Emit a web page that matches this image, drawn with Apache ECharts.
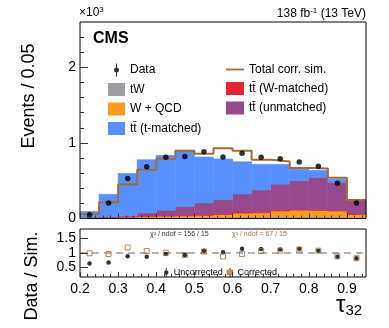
<!DOCTYPE html>
<html>
<head>
<meta charset="utf-8">
<style>
html, body { margin: 0; padding: 0; background: #fff; }
#main { width: 389px; height: 328px; }
</style>
<script src="https://cdn.jsdelivr.net/npm/echarts@6/dist/echarts.min.js"></script>
</head>
<body>
<div id="main"></div>
<script>
// bin edges of tau32 (15 bins of 0.05)
var binEdges = [0.20, 0.25, 0.30, 0.35, 0.40, 0.45, 0.50, 0.55, 0.60, 0.65, 0.70, 0.75, 0.80, 0.85, 0.90, 0.95];

// stacked simulation (events per bin), bottom to top
var tW      = [4, 6, 8, 10, 12, 14, 15, 16, 17, 18, 20, 20, 20, 18, 12];
var wQCD    = [4, 6, 10, 14, 18, 21, 25, 37, 54, 58, 80, 90, 87, 80, 41];
var ttWm    = [2, 4, 6, 8, 10, 12, 13, 14, 15, 15, 14, 12, 10, 8, 5];
var ttUnm   = [2, 4, 11, 43, 70, 113, 152, 183, 238, 287, 341, 378, 428, 374, 186];
var ttTm    = [81, 300, 561, 703, 726, 742, 608, 537, 427, 338, 261, 153, 91, 40, 2];

var totalCorr = [58, 216, 450, 644, 790, 896, 858, 929, 898, 776, 753, 669, 660, 538, 246];
var dataVals  = [49, 204, 529, 684, 809, 822, 884, 813, 862, 809, 791, 747, 693, 467, 204];

// ratio panel
var ratioUnc = [0.64, 0.67, 0.885, 0.87, 0.965, 0.93, 1.08, 1.03, 1.15, 1.14, 1.12, 1.15, 1.08, 0.87, 0.82];
var ratioCor = [0.99, 0.965, 1.19, 1.07, 1.01, 0.93, 1.05, 0.88, 0.965, 1.07, 1.08, 1.12, 1.08, 0.885, 0.82];

// tick positions
var yMajor = [0, 1000, 2000];
var yMinor = [200, 400, 600, 800, 1200, 1400, 1600, 1800, 2200, 2400];
var xMajor = [0.2, 0.3, 0.4, 0.5, 0.6, 0.7, 0.8, 0.9];
var xMinor = [0.22, 0.24, 0.26, 0.28, 0.32, 0.34, 0.36, 0.38, 0.42, 0.44, 0.46, 0.48, 0.52, 0.54, 0.56, 0.58,
              0.62, 0.64, 0.66, 0.68, 0.72, 0.74, 0.76, 0.78, 0.82, 0.84, 0.86, 0.88, 0.92, 0.94];
var rMajor = [0.5, 1, 1.5];

var FONT = 'Liberation Sans';
var BROWN = '#a66a35';
var TT = 'tt\u0304';

var layers = [
    {name: 'tW', vals: tW, color: '#9c9ca1'},
    {name: 'W + QCD', vals: wQCD, color: '#f89c20'},
    {name: TT + ' (W-matched)', vals: ttWm, color: '#e42536'},
    {name: TT + ' (unmatched)', vals: ttUnm, color: '#964a8b'},
    {name: TT + ' (t-matched)', vals: ttTm, color: '#5790fc'}
];

function renderBin(params, api) {
    var p0 = api.coord([api.value(0), api.value(3)]);
    var p1 = api.coord([api.value(1), api.value(2)]);
    var st = api.style();
    st.stroke = st.fill;
    st.lineWidth = 0.6;
    return {
        type: 'rect',
        shape: {x: p0[0], y: p0[1], width: p1[0] - p0[0], height: p1[1] - p0[1]},
        style: st
    };
}

var series = [];
var cum = binEdges.slice(0, 15).map(function () { return 0; });
layers.forEach(function (l) {
    var rows = [];
    for (var i = 0; i < 15; i++) {
        rows.push([binEdges[i], binEdges[i + 1], cum[i], cum[i] + l.vals[i]]);
        cum[i] += l.vals[i];
    }
    series.push({
        name: l.name, type: 'custom', xAxisIndex: 0, yAxisIndex: 0,
        renderItem: renderBin, encode: {x: [0, 1], y: [2, 3]},
        itemStyle: {color: l.color}, data: rows, silent: true, z: 2
    });
});

var stepData = [];
for (var i = 0; i < 15; i++) stepData.push([binEdges[i], totalCorr[i]]);
stepData.push([binEdges[15], totalCorr[14]]);

var centers = [];
for (var i = 0; i < 15; i++) centers.push((binEdges[i] + binEdges[i + 1]) / 2);

series.push({
    name: 'Total corr. sim.', type: 'line', step: 'end', xAxisIndex: 0, yAxisIndex: 0,
    data: stepData, symbol: 'none', lineStyle: {color: BROWN, width: 2}, itemStyle: {color: BROWN}, z: 5
});
series.push({
    name: 'Data', type: 'scatter', xAxisIndex: 0, yAxisIndex: 0,
    data: centers.map(function (c, i) { return [c, dataVals[i]]; }),
    symbol: 'circle', symbolSize: 5.5, itemStyle: {color: '#000'}, z: 6
});

// ratio panel
series.push({
    name: 'ref', type: 'line', xAxisIndex: 2, yAxisIndex: 2,
    data: [[0.2, 1], [0.95, 1]], symbol: 'none',
    lineStyle: {color: '#9a9a9a', width: 1.5, type: [7, 5]}, z: 2
});
series.push({
    name: 'Uncorrected', type: 'scatter', xAxisIndex: 2, yAxisIndex: 2,
    data: centers.map(function (c, i) { return [c, ratioUnc[i]]; }),
    symbol: 'circle', symbolSize: 4.5, itemStyle: {color: '#000'}, z: 5
});
series.push({
    name: 'Corrected', type: 'scatter', xAxisIndex: 2, yAxisIndex: 2,
    data: centers.map(function (c, i) { return [c, ratioCor[i]]; }),
    symbol: 'rect', symbolSize: 5, itemStyle: {color: 'rgba(255,255,255,0)', borderColor: BROWN, borderWidth: 1}, z: 6
});

function tickAxis(grid, type, extra) {
    var a = {
        gridIndex: grid, type: 'value',
        axisLine: {show: false}, splitLine: {show: false},
        axisLabel: {show: false}, z: 10
    };
    for (var k in extra) a[k] = extra[k];
    return a;
}

var dataIcon = 'path://M2,0h1v13h-1z M0,6.5a2.5,2.5 0 1,1 5,0a2.5,2.5 0 1,1 -5,0z';
var lineIcon = 'path://M0,0h20v2h-20z';
var uncIcon = 'path://M1.6,0h0.8v8h-0.8z M0,4a2,2 0 1,1 4,0a2,2 0 1,1 -4,0z';
var corIcon = 'path://M2,0L2,8 M0,2.5h4v3h-4z';

var chart = echarts.init(document.getElementById('main'), null, {renderer: 'canvas'});
chart.setOption({
    animation: false,
    backgroundColor: '#fff',
    textStyle: {fontFamily: FONT},
    grid: [
        {left: 80, right: 23, top: 22, height: 196.5, show: true, borderColor: '#000', borderWidth: 1, backgroundColor: 'transparent', z: 8},
        {left: 80, right: 23, top: 229, height: 48, show: true, borderColor: '#000', borderWidth: 1, backgroundColor: 'transparent', z: 8}
    ],
    xAxis: [
        tickAxis(0, 'value', {min: 0.2, max: 0.95, position: 'bottom',
            axisTick: {inside: true, length: 5, customValues: xMajor, lineStyle: {color: '#333'}}}),
        tickAxis(0, 'value', {min: 0.2, max: 0.95, position: 'bottom',
            axisTick: {inside: true, length: 3, customValues: xMinor, lineStyle: {color: '#333'}}}),
        tickAxis(1, 'value', {min: 0.2, max: 0.95, position: 'bottom',
            axisTick: {inside: true, length: 5, customValues: xMajor, lineStyle: {color: '#333'}},
            axisLabel: {show: true, customValues: xMajor, margin: 5, fontSize: 14, color: '#000', fontFamily: FONT,
                formatter: function (v) { return v.toFixed(1); }}}),
        tickAxis(1, 'value', {min: 0.2, max: 0.95, position: 'bottom',
            axisTick: {inside: true, length: 3, customValues: xMinor, lineStyle: {color: '#333'}}})
    ],
    yAxis: [
        tickAxis(0, 'value', {min: 0, max: 2600, position: 'left',
            axisTick: {inside: true, length: 8, customValues: yMajor, lineStyle: {color: '#333'}},
            axisLabel: {show: true, customValues: yMajor, margin: 4, fontSize: 14, color: '#000', fontFamily: FONT,
                formatter: function (v) { return String(v / 1000); }}}),
        tickAxis(0, 'value', {min: 0, max: 2600, position: 'left',
            axisTick: {inside: true, length: 4, customValues: yMinor, lineStyle: {color: '#333'}}}),
        tickAxis(1, 'value', {min: 0.17, max: 1.83, position: 'left',
            axisTick: {inside: true, length: 8, customValues: rMajor, lineStyle: {color: '#333'}},
            axisLabel: {show: true, customValues: rMajor, margin: 4, fontSize: 14, color: '#000', fontFamily: FONT,
                formatter: function (v) { return String(v); }}})
    ],
    legend: [
        {
            orient: 'vertical', left: 103, top: 58.5, itemWidth: 17, itemHeight: 13, itemGap: 6.5,
            selectedMode: false, textStyle: {fontSize: 12, color: '#000', fontFamily: FONT},
            data: [
                {name: 'Data', icon: dataIcon},
                {name: 'tW', icon: 'rect'},
                {name: 'W + QCD', icon: 'rect'},
                {name: TT + ' (t-matched)', icon: 'rect'}
            ]
        },
        {
            orient: 'vertical', left: 221, top: 58.5, itemWidth: 18, itemHeight: 13, itemGap: 6.5,
            selectedMode: false, textStyle: {fontSize: 12, color: '#000', fontFamily: FONT},
            data: [
                {name: 'Total corr. sim.', icon: lineIcon},
                {name: TT + ' (W-matched)', icon: 'rect'},
                {name: TT + ' (unmatched)', icon: 'rect'}
            ]
        },
        {
            orient: 'horizontal', left: 159, top: 262, itemWidth: 5, itemHeight: 9, itemGap: 4,
            selectedMode: false, textStyle: {fontSize: 9, color: '#000', fontFamily: FONT},
            data: [
                {name: 'Uncorrected', icon: uncIcon},
                {name: 'Corrected', icon: corIcon}
            ]
        }
    ],
    graphic: [
        {type: 'text', left: 79, top: 6, style: {text: '\u00d710{s|3}', fontSize: 12, fontFamily: FONT, fill: '#000',
            rich: {s: {fontSize: 8, verticalAlign: 'top', padding: [0, 0, 6, 0], fontFamily: FONT}}}},
        {type: 'text', right: 23, top: 7, style: {text: '138 fb{s|-1} (13 TeV)', fontSize: 12, fontFamily: FONT, fill: '#000',
            rich: {s: {fontSize: 8, padding: [0, 0, 6, 0], fontFamily: FONT}}}},
        {type: 'text', left: 93, top: 31, style: {text: 'CMS', fontSize: 16, fontWeight: 'bold', fontFamily: FONT, fill: '#000'}},
        {type: 'text', x: 29, y: 96, rotation: Math.PI / 2,
            style: {text: 'Events / 0.05', fontSize: 18, fontFamily: FONT, fill: '#000', align: 'center', verticalAlign: 'middle'}},
        {type: 'text', x: 32, y: 276, rotation: Math.PI / 2,
            style: {text: 'Data / Sim.', fontSize: 18, fontFamily: FONT, fill: '#000', align: 'center', verticalAlign: 'middle'}},
        {type: 'text', left: 150, top: 230.5, style: {text: '\u03c7\u00b2 / ndof = 156 / 15', fontSize: 7, fontFamily: FONT, fill: '#333'}},
        {type: 'text', left: 232, top: 230.5, style: {text: '\u03c7\u00b2 / ndof = 67 / 15', fontSize: 7, fontFamily: FONT, fill: BROWN}},
        {type: 'text', left: 336, top: 293, style: {text: '\u03c4{s|32}', fontSize: 24, fontFamily: FONT, fill: '#000',
            rich: {s: {fontSize: 15, padding: [12, 0, 0, 0], fontFamily: FONT}}}}
    ],
    series: series
});
</script>
</body>
</html>
